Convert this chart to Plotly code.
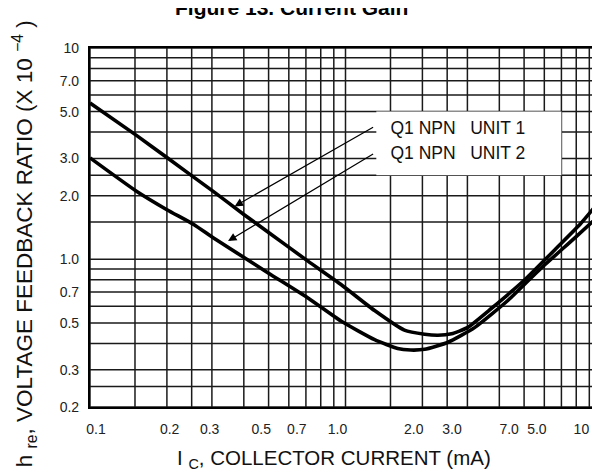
import math
import plotly.graph_objects as go

# ---------------- data ----------------
unit1_x = [0.1, 0.152, 0.2, 0.3045, 0.4, 0.5, 0.713, 0.963, 1.3, 1.7, 2.04, 2.3, 2.6, 3.0, 3.72, 5.03, 6.79, 8.3, 10.0]
unit1_y = [5.49, 3.86, 3.03, 2.09, 1.63, 1.34, 0.98, 0.758, 0.572, 0.462, 0.442, 0.437, 0.444, 0.475, 0.585, 0.80, 1.15, 1.47, 1.92]

unit2_x = [0.1, 0.152, 0.2, 0.2555, 0.3045, 0.5, 0.713, 0.963, 1.3, 1.6, 1.8, 2.04, 2.52, 3.2, 4.33, 5.84, 7.88, 10.0]
unit2_y = [3.02, 2.10, 1.717, 1.458, 1.261, 0.86, 0.656, 0.509, 0.4165, 0.378, 0.372, 0.375, 0.405, 0.475, 0.64, 0.91, 1.26, 1.64]

legend_labels = ["Q1 NPN   UNIT 1", "Q1 NPN   UNIT 2"]
legend_text_x = 1.50
legend_text_y = [4.1, 3.13]
legend_box_x = [1.32, 7.0]
legend_box_y = [2.5, 5.0]

arrow_head_x = [0.368, 0.347]
arrow_head_y = [1.78, 1.22]
arrow_tail_x = [1.30, 1.30]
arrow_tail_y = [4.26, 3.18]

x_tick_labels = ["0.1", "0.2", "0.3", "0.5", "0.7", "1.0", "2.0", "3.0", "7.0", "5.0", "10"]
x_tick_pos = [0.1055, 0.205, 0.294, 0.468, 0.645, 0.93, 1.85, 2.61, 4.37, 5.61, 8.38]
y_tick_labels = ["0.2", "0.3", "0.5", "0.7", "1.0", "2.0", "3.0", "5.0", "7.0", "10"]
y_tick_vals = [0.2, 0.3, 0.5, 0.7, 1.0, 2.0, 3.0, 5.0, 7.0, 10.0]

grid_mantissas = [1, 1.5, 2, 2.5, 3, 4, 5, 6, 7, 8, 9]
x_range = [0.1, 10.0]
y_range = [0.2, 10.0]

FONT = "Liberation Sans, Arial, sans-serif"
NARROW = "Liberation Sans Narrow, Arial Narrow, Liberation Sans, Arial, sans-serif"


def grid_values(lo, hi):
    vals = []
    for dec in (0.1, 1.0, 10.0):
        for m in grid_mantissas:
            v = round(m * dec, 6)
            if lo - 1e-9 <= v <= hi + 1e-9:
                vals.append(v)
    return vals


xg = grid_values(*x_range)
yg = grid_values(*y_range)

gx, gy = [], []
for v in xg:
    gx += [v, v, None]
    gy += [y_range[0], y_range[1], None]
for v in yg:
    gx += [x_range[0], x_range[1], None]
    gy += [v, v, None]

fig = go.Figure()
fig.add_trace(go.Scatter(x=gx, y=gy, mode="lines",
                         line=dict(color="#1a1a1a", width=1.5),
                         hoverinfo="skip", showlegend=False))
# white legend box
bx = [legend_box_x[0], legend_box_x[1], legend_box_x[1], legend_box_x[0], legend_box_x[0]]
by = [legend_box_y[0], legend_box_y[0], legend_box_y[1], legend_box_y[1], legend_box_y[0]]
fig.add_trace(go.Scatter(x=bx, y=by, mode="lines", fill="toself", fillcolor="white",
                         line=dict(width=0, color="white"), hoverinfo="skip", showlegend=False))
for xs, ys in ((unit1_x, unit1_y), (unit2_x, unit2_y)):
    fig.add_trace(go.Scatter(x=xs, y=ys, mode="lines",
                             line=dict(color="black", width=3.6, shape="spline", smoothing=0.5),
                             showlegend=False, cliponaxis=True))
fig.add_trace(go.Scatter(x=[legend_text_x] * 2, y=legend_text_y, mode="text",
                         text=legend_labels, textposition="middle right",
                         textfont=dict(family=NARROW, size=17.5, color="#111"),
                         showlegend=False, hoverinfo="skip"))

annotations = []
for hx, hy, tx, ty in zip(arrow_head_x, arrow_head_y, arrow_tail_x, arrow_tail_y):
    annotations.append(dict(x=math.log10(hx), y=math.log10(hy), xref="x", yref="y",
                            ax=math.log10(tx), ay=math.log10(ty), axref="x", ayref="y",
                            text="", showarrow=True, arrowhead=2, arrowsize=1.4,
                            arrowwidth=1.2, arrowcolor="black"))

annotations.append(dict(text="<b>Figure 13. Current Gain</b>", xref="paper", yref="paper",
                        x=0.395, y=1.076, xanchor="center", yanchor="bottom", showarrow=False,
                        font=dict(family=FONT, size=21, color="black")))
annotations.append(dict(text="I <sub>C</sub>, COLLECTOR CURRENT (mA)", xref="paper", yref="paper",
                        x=0.477, y=-0.145, xanchor="center", yanchor="middle", showarrow=False,
                        font=dict(family=FONT, size=20.5, color="#111")))
annotations.append(dict(text="h <sub>re</sub>, VOLTAGE FEEDBACK RATIO (X 10 <sup>\u22124</sup> )",
                        xref="paper", yref="paper", x=-0.128, y=0.455, xanchor="center",
                        yanchor="middle", textangle=-90, showarrow=False,
                        font=dict(family=FONT, size=22.5, color="#111")))

fig.update_layout(
    width=600, height=472,
    margin=dict(l=82, r=7, t=40, b=73, autoexpand=False),
    paper_bgcolor="white", plot_bgcolor="white",
    annotations=annotations,
    showlegend=False,
)
fig.update_xaxes(type="log", range=[math.log10(x_range[0]), math.log10(x_range[1])],
                 tickvals=x_tick_pos, ticktext=x_tick_labels, showgrid=False, zeroline=False,
                 showline=True, mirror=True, linecolor="black", linewidth=2.2,
                 ticks="", ticklabelstandoff=8, automargin=False,
                 tickfont=dict(family=FONT, size=14, color="#222"))
fig.update_yaxes(type="log", range=[math.log10(y_range[0]), math.log10(y_range[1])],
                 tickvals=y_tick_vals, ticktext=y_tick_labels, showgrid=False, zeroline=False,
                 showline=True, mirror=True, linecolor="black", linewidth=2.2,
                 ticks="", ticklabelstandoff=6, automargin=False,
                 tickfont=dict(family=FONT, size=14, color="#222"))

fig.write_html("out.html")
